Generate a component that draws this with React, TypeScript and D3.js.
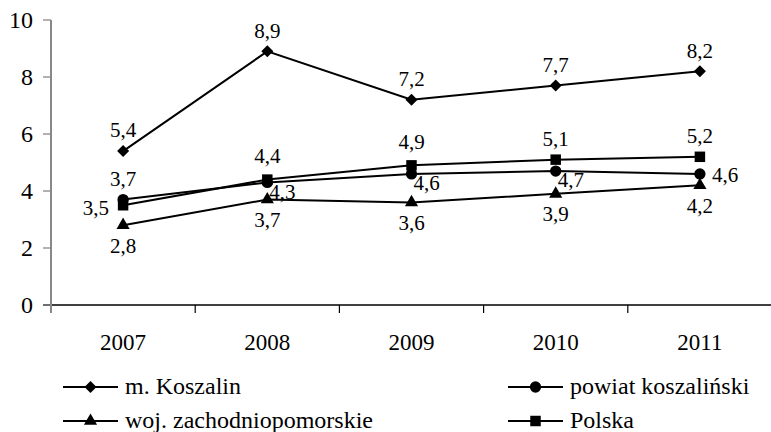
import React from "react";
import * as d3 from "d3";

const years = ["2007", "2008", "2009", "2010", "2011"];
const koszalin = [5.4, 8.9, 7.2, 7.7, 8.2];
const powiat = [3.7, 4.3, 4.6, 4.7, 4.6];
const woj = [2.8, 3.7, 3.6, 3.9, 4.2];
const polska = [3.5, 4.4, 4.9, 5.1, 5.2];
const yTicks = [0, 2, 4, 6, 8, 10];

const seriesNames = ["m. Koszalin", "powiat koszaliński", "woj. zachodniopomorskie", "Polska"];
const koszalinLabelPos = ["top", "top", "top", "top", "top"];
const powiatLabelPos = ["top", "belowRight", "belowRight", "belowRight", "right"];
const wojLabelPos = ["bottom", "bottom", "bottom", "bottom", "bottom"];
const polskaLabelPos = ["left", "topHigh", "topHigh", "top", "top"];

const W = 771;
const H = 432;
const FONT = "'Liberation Serif', 'Tinos', 'Nimbus Roman', 'FreeSerif', 'Times New Roman', Times, serif";

type Shape = "diamond" | "circle" | "triangle" | "square";

const series: { name: string; values: number[]; shape: Shape; pos: string[] }[] = [
  { name: seriesNames[0], values: koszalin, shape: "diamond", pos: koszalinLabelPos },
  { name: seriesNames[1], values: powiat, shape: "circle", pos: powiatLabelPos },
  { name: seriesNames[2], values: woj, shape: "triangle", pos: wojLabelPos },
  { name: seriesNames[3], values: polska, shape: "square", pos: polskaLabelPos },
];

const symbolFor: Record<Shape, { type: d3.SymbolType; size: number }> = {
  diamond: { type: d3.symbolSquare, size: 72 },
  circle: { type: d3.symbolCircle, size: 100 },
  triangle: { type: d3.symbolTriangle, size: 75 },
  square: { type: d3.symbolSquare, size: 110 },
};

function Marker({ shape, x, y }: { shape: Shape; x: number; y: number }) {
  const s = symbolFor[shape];
  const path = d3.symbol().type(s.type).size(s.size)() || "";
  const rot = shape === "diamond" ? " rotate(45)" : "";
  return <path d={path} transform={`translate(${x},${y})${rot}`} fill="#000" stroke="none" />;
}

const fmt = (v: number) => v.toFixed(1).replace(".", ",");

export default function App() {
  const x = d3.scaleBand<string>().domain(years).range([51, 772]).padding(0);
  const y = d3.scaleLinear().domain([0, 10]).range([305, 20]);
  const cx = (yr: string) => (x(yr) as number) + x.bandwidth() / 2;
  const line = d3
    .line<number>()
    .x((_, i) => cx(years[i]))
    .y((d) => y(d));

  const labelProps = (pos: string, px: number, py: number) => {
    switch (pos) {
      case "top":
        return { x: px, y: py - 21, anchor: "middle" };
      case "topHigh":
        return { x: px, y: py - 24, anchor: "middle" };
      case "bottom":
        return { x: px, y: py + 20, anchor: "middle" };
      case "left":
        return { x: px - 14, y: py + 2, anchor: "end" };
      case "right":
        return { x: px + 12, y: py + 1, anchor: "start" };
      case "belowRight":
      default:
        return { x: px + 2, y: py + 9, anchor: "start" };
    }
  };

  const edges = years.map((yr) => x(yr) as number).concat([772]);

  const legendItems = [
    { s: series[0], lx: 63, ly: 387 },
    { s: series[1], lx: 508, ly: 387 },
    { s: series[2], lx: 63, ly: 421 },
    { s: series[3], lx: 508, ly: 421 },
  ];

  return (
    <svg
      width={W}
      height={H}
      style={{ position: "absolute", left: 0, top: 0, background: "#fff", fontFamily: FONT }}
    >
      <rect x={0} y={0} width={W} height={H} fill="#fff" />
      {/* x axis */}
      <line x1={43} x2={772} y1={y(0)} y2={y(0)} stroke="#000" strokeWidth={1.3} />
      {edges.map((e, i) => (
        <line key={"xt" + i} x1={e} x2={e} y1={y(0)} y2={y(0) + 8} stroke="#000" strokeWidth={1.2} />
      ))}
      {/* y axis */}
      <line x1={51} x2={51} y1={y(10)} y2={y(0) + 8} stroke="#888" strokeWidth={2} />
      {yTicks.map((t) => (
        <g key={"yt" + t}>
          <line x1={43} x2={51} y1={y(t)} y2={y(t)} stroke="#888" strokeWidth={1.3} />
          <text x={33} y={y(t)} dy="0.35em" textAnchor="end" fontSize={24} fill="#000" style={{ fontFamily: FONT }}>
            {t}
          </text>
        </g>
      ))}
      {years.map((yr) => (
        <text key={"xl" + yr} x={cx(yr)} y={342} dy="0.35em" textAnchor="middle" fontSize={23} fill="#000" style={{ fontFamily: FONT }}>
          {yr}
        </text>
      ))}
      {/* lines */}
      {series.map((s) => (
        <path key={"l" + s.name} d={line(s.values) || ""} fill="none" stroke="#000" strokeWidth={2} />
      ))}
      {/* markers */}
      {series.map((s) =>
        s.values.map((v, i) => <Marker key={s.name + "m" + i} shape={s.shape} x={cx(years[i])} y={y(v)} />)
      )}
      {/* labels */}
      {series.map((s) =>
        s.values.map((v, i) => {
          const lp = labelProps(s.pos[i], cx(years[i]), y(v));
          return (
            <text
              key={s.name + "t" + i}
              x={lp.x}
              y={lp.y}
              dy="0.35em"
              textAnchor={lp.anchor as any}
              fontSize={21}
              fill="#000"
              style={{ fontFamily: FONT }}
            >
              {fmt(v)}
            </text>
          );
        })
      )}
      {/* legend */}
      {legendItems.map(({ s, lx, ly }) => (
        <g key={"lg" + s.name}>
          <line x1={lx} x2={lx + 55} y1={ly} y2={ly} stroke="#000" strokeWidth={2} />
          <Marker shape={s.shape} x={lx + 27.5} y={ly} />
          <text x={lx + 62} y={ly} dy="0.3em" fontSize={24} fill="#000" style={{ fontFamily: FONT }}>
            {s.name}
          </text>
        </g>
      ))}
    </svg>
  );
}
